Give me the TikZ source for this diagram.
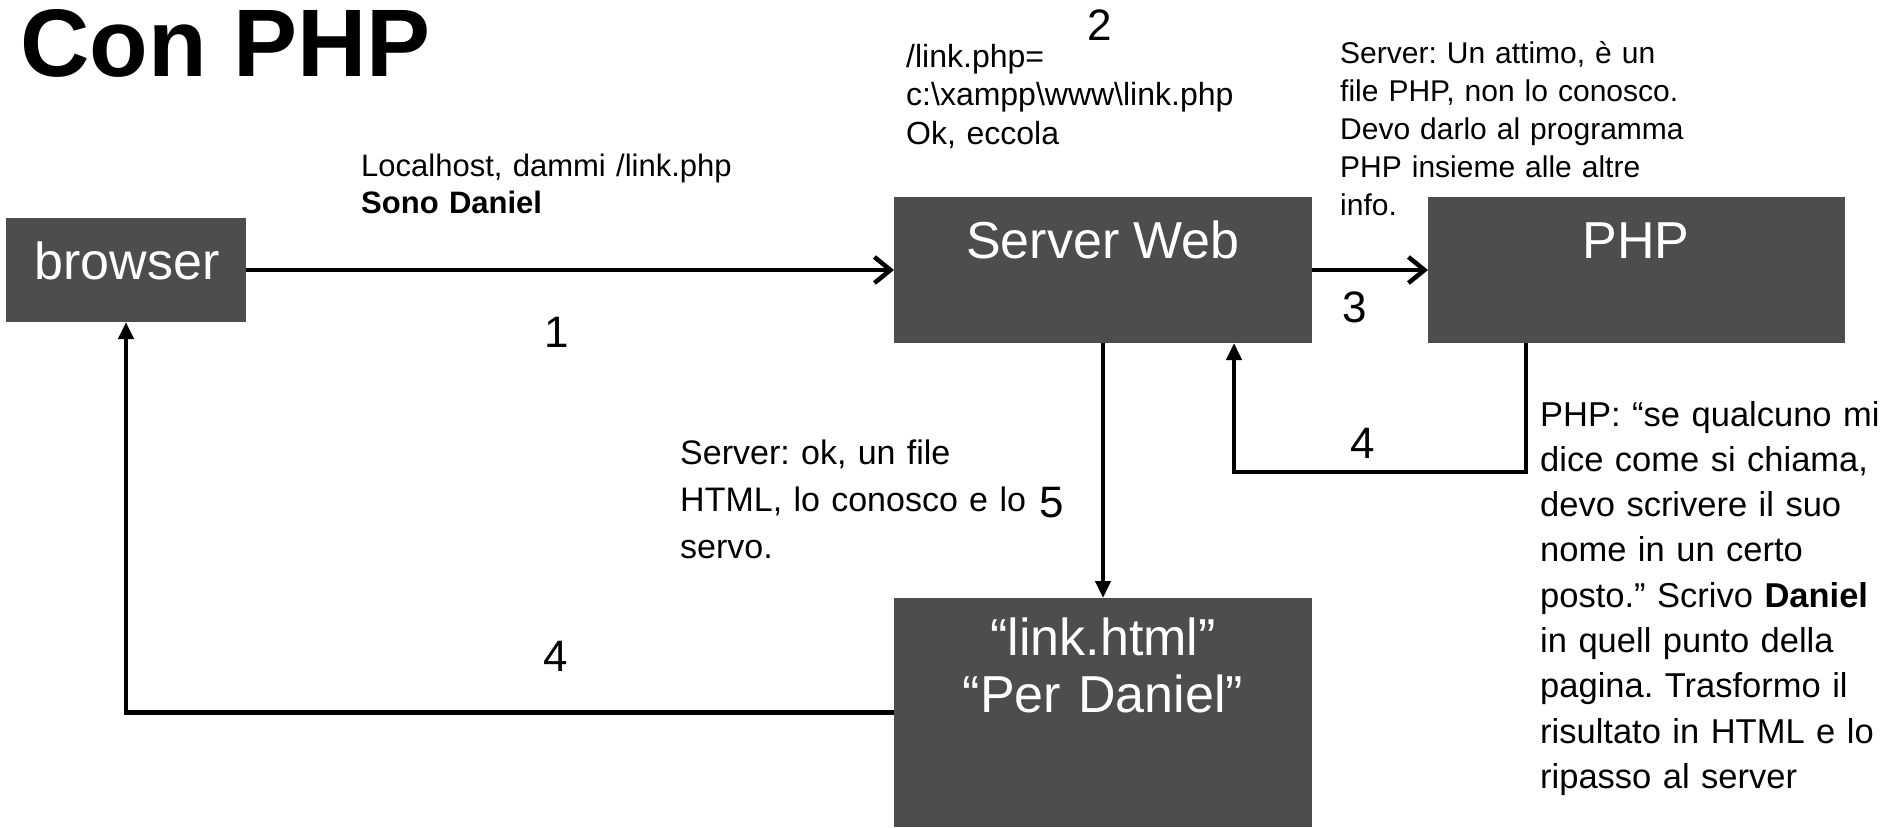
\documentclass[tikz,border=0pt]{standalone}
\usepackage{fontspec}
\setmainfont{Liberation Sans}
\usetikzlibrary{arrows.meta}
\definecolor{boxgray}{RGB}{77,77,77}
\frenchspacing
\begin{document}
\begin{tikzpicture}[x=1pt,y=-1pt,
  box/.style={fill=boxgray, draw=none, inner sep=0pt, outer sep=0pt},
  boxtext/.style={text=white, font=\fontsize{52}{57}\selectfont, inner sep=0pt},
  note/.style={inner sep=0pt, anchor=base west, align=left, text width=420pt},
  num/.style={inner sep=0pt, font=\fontsize{44}{50}\selectfont},
  chev/.style={line width=4.5pt, -{Straight Barb[length=16pt,width=26pt]}},
  tri/.style={line width=4.5pt, -{Triangle[length=17pt,width=15pt]}}
]
\useasboundingbox (0,0) rectangle (1881,827);
\fill[white] (0,0) rectangle (1881,827);

% title
\node[inner sep=0pt, anchor=base west, font=\fontsize{96}{110}\selectfont\bfseries] (title) at (20,76) {Con PHP};

% boxes
\node[box, minimum width=240pt, minimum height=104pt] (browser) at (126,270) {};
\node[box, minimum width=418pt, minimum height=146pt] (sw) at (1103,270) {};
\node[box, minimum width=417pt, minimum height=146pt] (php) at (1636.5,270) {};
\node[box, minimum width=418pt, minimum height=229pt] (link) at (1103,712.5) {};

\node[boxtext, anchor=base] (tbrowser) at (127,279) {browser};
\node[boxtext, anchor=base] (tsw) at (1103,258) {Server Web};
\node[boxtext, anchor=base] (tphp) at (1636,258) {PHP};
\node[boxtext, anchor=base, align=center, text width=400pt] (tlink) at (1103,655) {“link.html”\\“Per Daniel”};

% connectors
\draw[chev] (browser.east) -- (sw.west);
\draw[chev] (sw.east) -- (php.west);
\draw[tri] (sw.south) -- (link.north);
\coordinate (ra) at (1526,472);
\coordinate (rb) at (1234,472);
\draw[tri] (php.south -| ra) -- (ra) -- (rb) -- (sw.south -| rb);
\draw[tri] (link.west) -- (link.west -| browser.south) -- (browser.south);

% numbers
\node[num] (n1) at (557,332) {1};
\node[num] (n2) at (1100,25) {2};
\node[num] (n3) at (1355,307) {3};
\node[num] (n4a) at (1363,443) {4};
\node[num] (n5) at (1052,503) {5};
\node[num] (n4b) at (556,656) {4};

% notes
\node[note, font=\fontsize{31}{37}\selectfont] (t1) at (361,176) {Localhost, dammi /link.php\\\textbf{Sono Daniel}};
\node[note, font=\fontsize{32}{38.5}\selectfont] (t2) at (906,67) {/link.php=\\c:\textbackslash xampp\textbackslash www\textbackslash link.php\\Ok, eccola};
\node[note, font=\fontsize{30}{38}\selectfont] (t3) at (1340,63) {Server: Un attimo, è un\\file PHP, non lo conosco.\\Devo darlo al programma\\PHP insieme alle altre\\info.};
\node[note, font=\fontsize{34}{47}\selectfont] (t4) at (680,464) {Server: ok, un file\\HTML, lo conosco e lo\\servo.};
\node[note, font=\fontsize{34.5}{45.3}\selectfont] (t5) at (1540,426) {PHP: “se qualcuno mi\\dice come si chiama,\\devo scrivere il suo\\nome in un certo\\posto.” Scrivo \textbf{Daniel}\\in quell punto della\\pagina. Trasformo il\\risultato in HTML e lo\\ripasso al server};
\end{tikzpicture}
\end{document}
